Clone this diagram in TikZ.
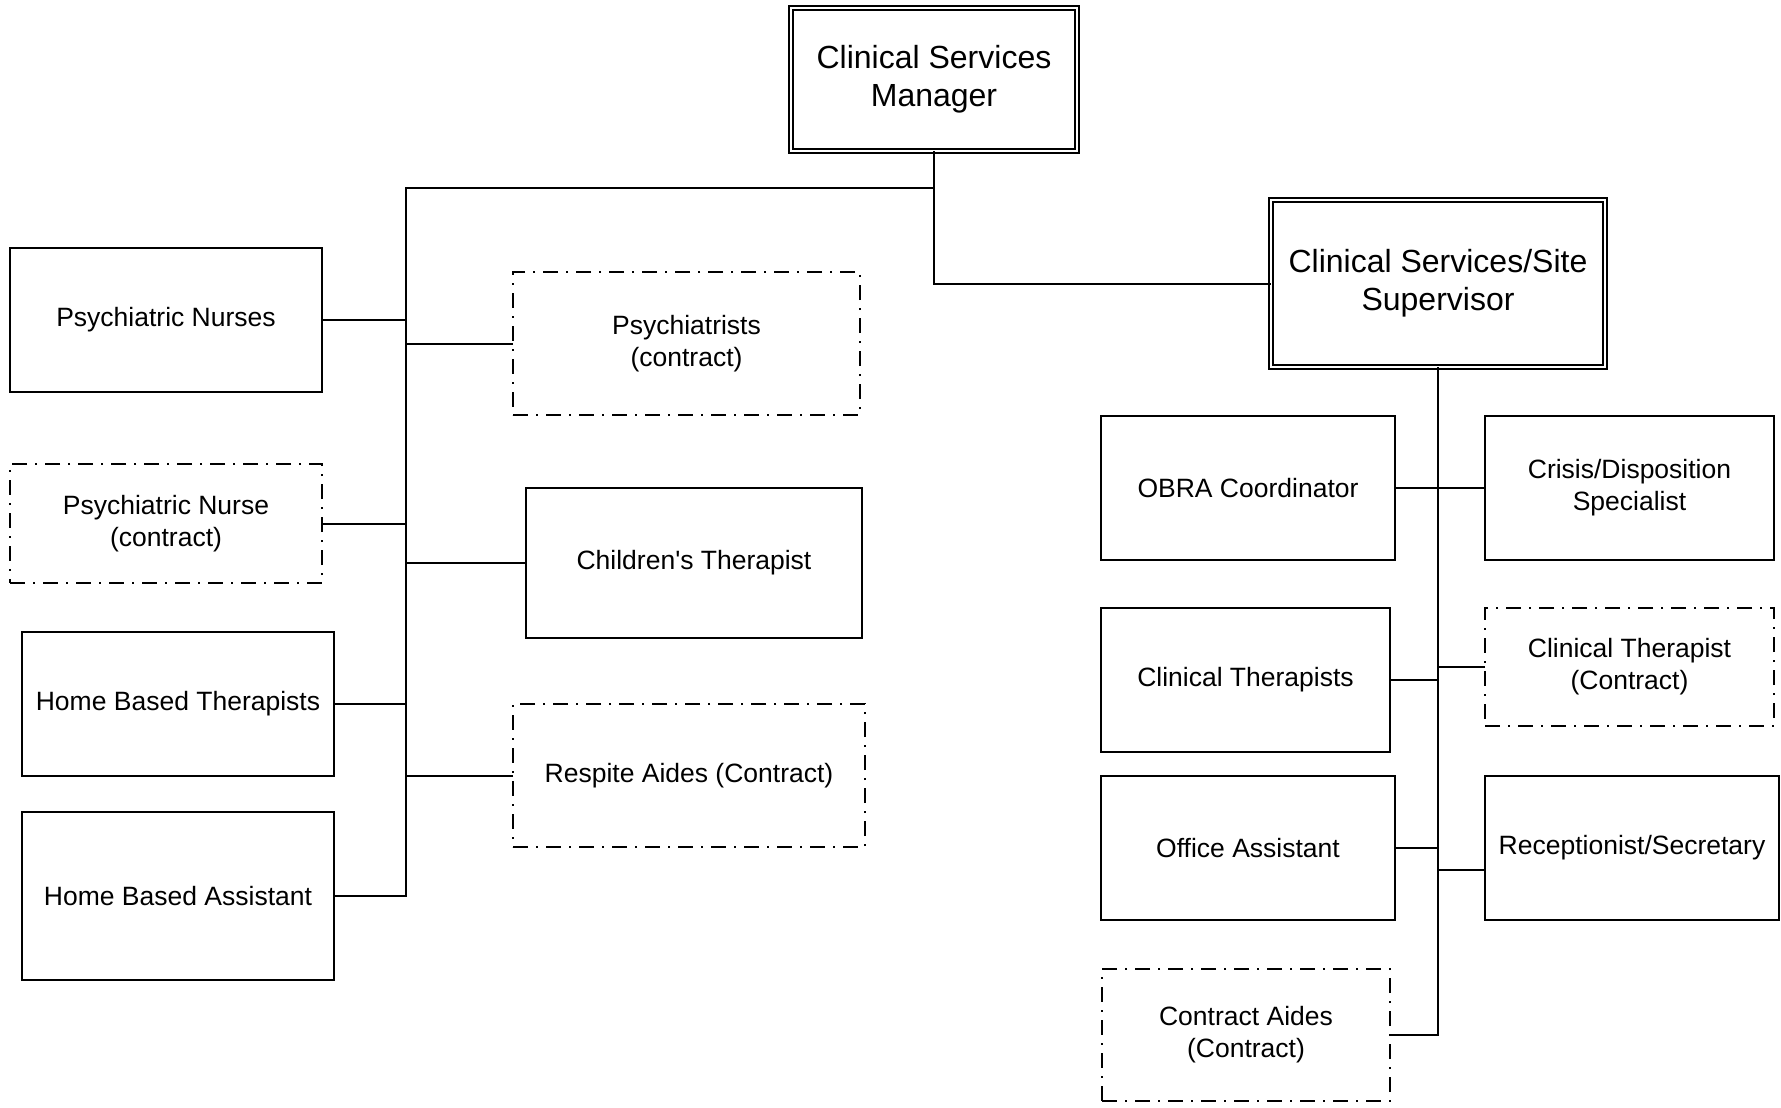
\documentclass[tikz,border=0pt]{standalone}
\usepackage{fontspec}
\setmainfont{Liberation Sans}
\begin{document}
\begin{tikzpicture}[x=1pt,y=-1pt,
  every node/.style={inner sep=0pt,outer sep=0pt,align=center,text=black},
  box/.style={draw=black,line width=2pt,rectangle,font=\fontsize{26.5}{31.8}\selectfont},
  dbox/.style={box,dash pattern=on 15pt off 8pt on 2pt off 8pt,line width=1.8pt},
  topbox/.style={draw=black,line width=1.8pt,double=white,double distance=2pt,rectangle,font=\fontsize{32}{38.4}\selectfont},
  conn/.style={draw=black,line width=2pt}]
\useasboundingbox (0,0) rectangle (1781,1108);
\fill[white] (0,0) rectangle (1781,1108);

% top level
\node[topbox,minimum width=286pt,minimum height=143pt] (mgr) at (934,79.5) {Clinical Services\\Manager};
\node[topbox,minimum width=334pt,minimum height=167pt] (sup) at (1438,283.5) {Clinical Services/Site\\Supervisor};

% left column
\node[box,minimum width=312pt,minimum height=144pt] (pn) at (166,320) {Psychiatric Nurses};
\node[dbox,minimum width=312pt,minimum height=119pt] (pnc) at (166,523.5) {Psychiatric Nurse\\(contract)};
\node[box,minimum width=312pt,minimum height=144pt] (hbt) at (178,704) {Home Based Therapists};
\node[box,minimum width=312pt,minimum height=168pt] (hba) at (178,896) {Home Based Assistant};

% middle column
\node[dbox,minimum width=347pt,minimum height=143pt] (psy) at (686.5,343.5) {Psychiatrists\\(contract)};
\node[box,minimum width=336pt,minimum height=150pt] (ct) at (694,563) {Children\textquotesingle s Therapist};
\node[dbox,minimum width=352pt,minimum height=143pt] (ra) at (689,775.5) {Respite Aides (Contract)};

% right side
\node[box,minimum width=294pt,minimum height=144pt] (obra) at (1248,488) {OBRA Coordinator};
\node[box,minimum width=289pt,minimum height=144pt] (cri) at (1629.5,488) {Crisis/Disposition\\Specialist};
\node[box,minimum width=289pt,minimum height=144pt] (clt) at (1245.5,680) {Clinical Therapists};
\node[dbox,minimum width=289pt,minimum height=118pt] (cltc) at (1629.5,667) {Clinical Therapist\\(Contract)};
\node[box,minimum width=294pt,minimum height=144pt] (oa) at (1248,848) {Office Assistant};
\node[box,minimum width=294pt,minimum height=144pt] (rs) at (1632,848) {Receptionist/Secretary};
\node[dbox,minimum width=288pt,minimum height=132pt] (ca) at (1246,1035) {Contract Aides\\(Contract)};

% buses
\coordinate (lbtop) at (406,188);
\coordinate (rsj) at (1438,870);

\draw[conn] (mgr.south) |- (sup.west);
\draw[conn] (mgr.south |- lbtop) -- (lbtop) |- (hba.east);
\draw[conn] (sup.south) |- (ca.east);

% left connectors
\draw[conn] (pn.east) -- (pn.east -| lbtop);
\draw[conn] (pnc.east) -- (pnc.east -| lbtop);
\draw[conn] (hbt.east) -- (hbt.east -| lbtop);
\draw[conn] (psy.west) -- (psy.west -| lbtop);
\draw[conn] (ct.west) -- (ct.west -| lbtop);
\draw[conn] (ra.west) -- (ra.west -| lbtop);

% right connectors
\draw[conn] (obra.east) -- (cri.west);
\draw[conn] (clt.east) -- (clt.east -| sup.south);
\draw[conn] (cltc.west) -- (cltc.west -| sup.south);
\draw[conn] (oa.east) -- (oa.east -| sup.south);
\draw[conn] (rsj) -- (rsj -| rs.west);
\end{tikzpicture}
\end{document}
